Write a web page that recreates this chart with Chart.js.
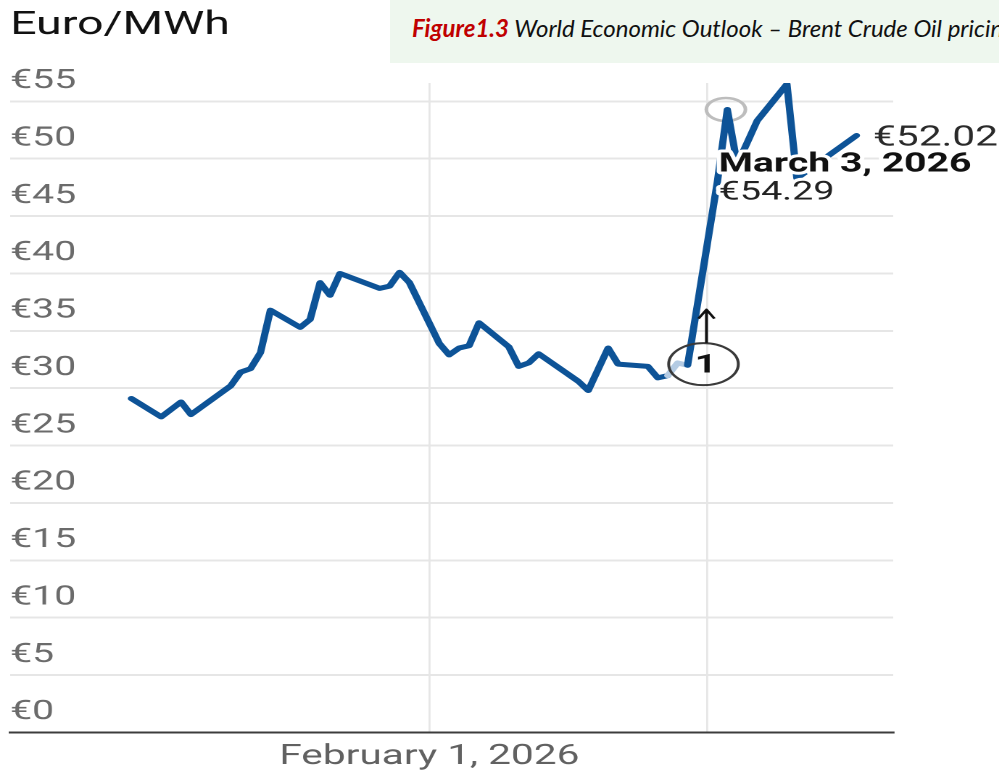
<!DOCTYPE html>
<html>
<head>
<meta charset="utf-8">
<script src="https://cdn.jsdelivr.net/npm/chart.js@4.4.1/dist/chart.umd.min.js"></script>
<style>
  html, body { margin: 0; padding: 0; background: #fff; overflow: hidden; }
  #wrap { position: relative; width: 999px; height: 773px; }
  /* the picture is stretched sideways, so the canvas is too */
  #c { position: absolute; left: 0; top: 0; transform: scaleX(1.45); transform-origin: 0 0; }
  #fig {
    position: absolute; left: 390px; top: 0; width: 609px; height: 63px;
    background: #eef7ee; box-sizing: border-box; padding-left: 22px;
    font-family: Lato, 'Open Sans', sans-serif; font-style: italic; font-size: 24px;
    line-height: 56px; white-space: nowrap; overflow: hidden; color: #111;
  }
  #fig b { color: #c00000; }
</style>
</head>
<body>
<div id="wrap">
  <canvas id="c" width="689" height="773"></canvas>
  <div id="fig"><b>Figure1.3</b> World Economic Outlook – Brent Crude Oil pricing</div>
</div>
<script>
// trading days and prices (Euro/MWh)
const dates = [
  '2026-01-02', '2026-01-05', '2026-01-07', '2026-01-08', '2026-01-12', '2026-01-13',
  '2026-01-14', '2026-01-15', '2026-01-16', '2026-01-19', '2026-01-20', '2026-01-21',
  '2026-01-22', '2026-01-23', '2026-01-27', '2026-01-28', '2026-01-29', '2026-01-30',
  '2026-02-02', '2026-02-03', '2026-02-04', '2026-02-05', '2026-02-06', '2026-02-09',
  '2026-02-10', '2026-02-11', '2026-02-12', '2026-02-16', '2026-02-17', '2026-02-19',
  '2026-02-20', '2026-02-23', '2026-02-24', '2026-02-25', '2026-02-26', '2026-02-27',
  '2026-03-02', '2026-03-03', '2026-03-04', '2026-03-06', '2026-03-09', '2026-03-10',
  '2026-03-16'
]
const prices = [
  29.1, 27.5, 28.8, 27.7, 30.2, 31.4,
  31.7, 33.1, 36.8, 35.3, 36.0, 39.2,
  38.1, 40.0, 38.7, 38.9, 40.1, 39.2,
  33.9, 32.9, 33.5, 33.7, 35.7, 33.6,
  31.9, 32.2, 33.0, 30.6, 29.8, 33.5,
  32.1, 31.9, 30.9, 31.1, 32.2, 32.0,
  48.0, 54.29, 49.5, 53.3, 56.5, 48.3,
  52.02
]
const fadedDates = ['2026-02-25', '2026-02-26', '2026-02-27']

const yTicks = [0, 5, 10, 15, 20, 25, 30, 35, 40, 45, 50, 55]
const xTickDates = ['2026-02-01', '2026-03-01']
const xTickLabels = ['February 1, 2026', '']

const peakDate = '2026-03-03'
const peakTitle = 'March 3, 2026'
const peakText = '€54.29'
const lastText = '€52.02'
const markText = '1'

const BLUE = '#0d5397'
const FADED = '#b4cbe3'
const GRID = '#e6e6e6'

const day0 = Date.UTC(2026, 1, 1)
const toDay = s => (Date.parse(s + 'T00:00:00Z') - day0) / 86400000

const points = dates.map((d, i) => ({ x: toDay(d), y: prices[i] }))
const fadedDays = fadedDates.map(toDay)

const annotations = {
  id: 'annotations',
  beforeDatasetsDraw(chart) {
    const { ctx, scales: { x, y } } = chart
    const px = x.getPixelForValue(toDay(peakDate))
    const py = y.getPixelForValue(prices[dates.indexOf(peakDate)])
    ctx.save()
    ctx.strokeStyle = '#bdbdbd'
    ctx.lineWidth = 2.5
    ctx.beginPath()
    ctx.ellipse(px - 1, py, 13.5, 11.5, 0, 0, Math.PI * 2)
    ctx.stroke()
    ctx.restore()
  },
  afterDatasetsDraw(chart) {
    const { ctx, scales: { x, y } } = chart
    const px = x.getPixelForValue(toDay(peakDate))
    const py = y.getPixelForValue(prices[dates.indexOf(peakDate)])
    ctx.save()
    ctx.lineJoin = 'round'
    ctx.textBaseline = 'alphabetic'
    ctx.textAlign = 'left'

    // tooltip style label of the peak
    ctx.font = 'bold 27px Roboto'
    ctx.strokeStyle = '#fff'
    ctx.lineWidth = 6
    ctx.strokeText(peakTitle, px - 6, py + 62)
    ctx.fillStyle = '#111'
    ctx.fillText(peakTitle, px - 6, py + 62)
    ctx.font = '26px Roboto'
    ctx.strokeText(peakText, px - 6, py + 90)
    ctx.fillStyle = '#222'
    ctx.fillText(peakText, px - 6, py + 90)

    // last value
    const last = points[points.length - 1]
    ctx.font = '28px Roboto'
    ctx.fillStyle = '#2a2a2a'
    ctx.fillText(lastText, x.getPixelForValue(last.x) + 11.5, y.getPixelForValue(last.y) + 10)

    // circled "1" with arrow
    const cx = x.getPixelForValue(27.6)
    const cy = y.getPixelForValue(32.1)
    ctx.strokeStyle = '#3a3a3a'
    ctx.lineWidth = 2
    ctx.beginPath()
    ctx.ellipse(cx, cy, 24, 21, 0, 0, Math.PI * 2)
    ctx.stroke()
    ctx.fillStyle = '#111'
    ctx.font = 'bold 26px Roboto'
    ctx.textAlign = 'center'
    ctx.textBaseline = 'middle'
    ctx.fillText(markText, cx + 1.5, cy + 2)

    const ax = x.getPixelForValue(27.9)
    const ay0 = y.getPixelForValue(33.95)
    const ay1 = y.getPixelForValue(36.85)
    ctx.strokeStyle = '#111'
    ctx.lineWidth = 2
    ctx.beginPath()
    ctx.moveTo(ax, ay0)
    ctx.lineTo(ax, ay1)
    ctx.moveTo(ax - 5.5, ay1 + 9)
    ctx.lineTo(ax, ay1)
    ctx.lineTo(ax + 5.5, ay1 + 9)
    ctx.stroke()
    ctx.restore()
  }
}

new Chart(document.getElementById('c'), {
  type: 'line',
  data: {
    datasets: [{
      data: points,
      borderColor: BLUE,
      borderWidth: 5,
      pointRadius: 0,
      tension: 0,
      borderJoinStyle: 'round',
      borderCapStyle: 'round',
      segment: {
        borderColor: c => (fadedDays.includes(c.p0.parsed.x) && fadedDays.includes(c.p1.parsed.x) ? FADED : BLUE)
      }
    }]
  },
  options: {
    responsive: false,
    animation: false,
    devicePixelRatio: 2,
    layout: { padding: { left: 7, right: 73, top: 0, bottom: -9 } },
    plugins: {
      legend: { display: false },
      tooltip: { enabled: false },
      title: {
        display: true,
        text: 'Euro/MWh',
        align: 'start',
        color: '#111',
        font: { family: 'Roboto', size: 32, weight: 'normal' },
        padding: { top: 7, bottom: 37.6 }
      }
    },
    scales: {
      x: {
        type: 'linear',
        min: -42.2,
        max: 46.7,
        grid: { color: GRID, lineWidth: 1.4, drawTicks: false },
        border: { display: true, color: '#3c3c3c', width: 2 },
        afterBuildTicks: ax => { ax.ticks = xTickDates.map(d => ({ value: toDay(d) })) },
        ticks: {
          autoSkip: false,
          maxRotation: 0,
          padding: 8,
          color: '#616161',
          font: { family: 'Roboto', size: 28 },
          callback: (v, i) => xTickLabels[i]
        }
      },
      y: {
        min: 0,
        max: 56.6,
        grid: { color: GRID, lineWidth: 2, drawTicks: false },
        border: { display: false },
        afterBuildTicks: ax => { ax.ticks = yTicks.map(v => ({ value: v })) },
        ticks: {
          mirror: true,
          padding: 0,
          labelOffset: -20,
          color: '#6b6b6b',
          font: { family: 'Roboto', size: 27 },
          callback: v => '€' + v
        }
      }
    }
  },
  plugins: [annotations]
})
</script>
</body>
</html>
